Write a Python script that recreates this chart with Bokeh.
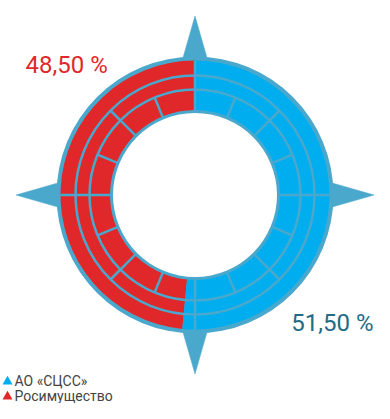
import math
from bokeh.plotting import figure
from bokeh.models import Range1d
from bokeh.core.properties import value
from bokeh.embed import file_html
from bokeh.resources import INLINE

# ---- data ----
owners = ["АО «СЦСС»", "Росимущество"]
shares = [51.50, 48.50]
share_labels = ["51,50 %", "48,50 %"]
fill_colors = ["#00aeef", "#e0282a"]
label_colors = ["#226b88", "#e0282a"]

FRAME = "#4aa8cc"
W, H = 374, 403
cx, cy = 194.5, H - 194.5

p = figure(width=W, height=H, output_backend="svg", toolbar_location=None,
           x_range=Range1d(0, W), y_range=Range1d(0, H), min_border=0)
p.axis.visible = False
p.grid.visible = False
p.outline_line_color = None
p.background_fill_color = "white"

# compass arrows
tip_r, base_r, slope = 179.0, 125.0, 12.5 / 43.5
for ang in [0, 90, 180, 270]:
    a = math.radians(ang)
    hw = slope * (tip_r - base_r)
    ux, uy = math.cos(a), math.sin(a)
    vx, vy = -uy, ux
    xs = [cx + tip_r * ux, cx + base_r * ux + hw * vx, cx + base_r * ux - hw * vx]
    ys = [cy + tip_r * uy, cy + base_r * uy + hw * vy, cy + base_r * uy - hw * vy]
    p.patch(xs, ys, fill_color=FRAME, line_color=FRAME, line_width=0.5)

# frame ring
p.annular_wedge(x=cx, y=cy, inner_radius=82, outer_radius=138.5,
                start_angle=0, end_angle=2 * math.pi,
                fill_color=FRAME, line_color=None)

# data slices: red (Росимущество) from top anticlockwise, blue the rest
start = math.pi / 2
red_end = start + 2 * math.pi * shares[1] / 100
p.annular_wedge(x=cx, y=cy, inner_radius=85, outer_radius=134.5,
                start_angle=start, end_angle=red_end,
                fill_color=fill_colors[1], line_color=None)
p.annular_wedge(x=cx, y=cy, inner_radius=85, outer_radius=134.5,
                start_angle=red_end, end_angle=start + 2 * math.pi,
                fill_color=fill_colors[0], line_color=None)

# ring separators
for r in [105.5, 119.5]:
    p.circle(x=cx, y=cy, radius=r, fill_color=None, line_color=FRAME, line_width=2.5)

# radial separators
xs0, ys0, xs1, ys1 = [], [], [], []
for k in range(16):
    ang = k * 22.5
    if k % 4 == 0:
        r_out = 134.5
    elif k % 2 == 0:
        r_out = 119.5
    else:
        r_out = 105.5
    a = math.radians(ang)
    xs0.append(cx + 84 * math.cos(a)); ys0.append(cy + 84 * math.sin(a))
    xs1.append(cx + r_out * math.cos(a)); ys1.append(cy + r_out * math.sin(a))
p.segment(x0=xs0, y0=ys0, x1=xs1, y1=ys1, line_color=FRAME, line_width=2.5)

# percentage labels
p.text(x=[25], y=[H - 64.5], text=[share_labels[1]], text_color=label_colors[1],
       text_font=value("Roboto"), text_font_size="24px",
       text_align="left", text_baseline="middle")
p.text(x=[373], y=[H - 322], text=[share_labels[0]], text_color=label_colors[0],
       text_font=value("Roboto"), text_font_size="24px",
       text_align="right", text_baseline="middle")

# legend
leg_y = [H - 380, H - 395]
p.scatter(x=[7, 7], y=[v - 1 for v in leg_y], marker="triangle", size=10,
          fill_color=fill_colors, line_color=None)
p.text(x=[14, 14], y=leg_y, text=owners, text_color="#444444",
       text_font=value("Roboto"), text_font_size="14px",
       text_align="left", text_baseline="middle")

open("out.html", "w").write(file_html(p, INLINE))
